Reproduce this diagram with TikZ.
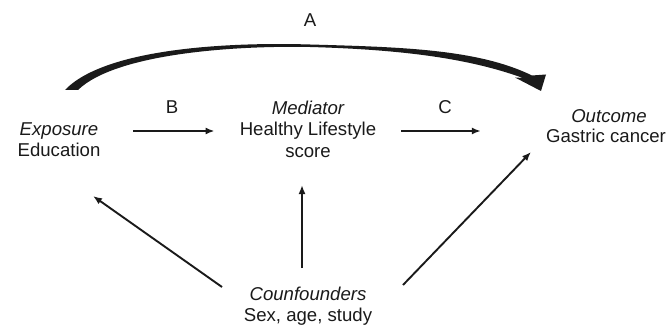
\documentclass[tikz,border=0pt]{standalone}
\usepackage{fontspec}
\setmainfont{Liberation Sans}
\usetikzlibrary{arrows.meta}
\definecolor{ink}{HTML}{1A1A1A}
\begin{document}
\begin{tikzpicture}[x=1pt,y=-1pt,
  txt/.style={inner sep=0pt, text height=13.5pt, text depth=4pt,
              font=\fontsize{18.6}{22}\selectfont, text=ink},
  it/.style={txt, font=\fontsize{18.6}{22}\selectfont\itshape},
  arr/.style={draw=ink, line width=1.9pt, -{Latex[length=9pt,width=7pt]}}]
\useasboundingbox (0,0) rectangle (672,326);

% path labels
\node[txt] (lblA) at (310,22) {A};
\node[txt] (lblB) at (172,109) {B};
\node[txt] (lblC) at (445,109) {C};

% variables
\node[it]  (expo)  at (59,131)  {Exposure};
\node[txt] (edu)   at (59,152)  {Education};
\node[it]  (med)   at (308,110) {Mediator};
\node[txt] (hls)   at (308,131) {Healthy Lifestyle};
\node[txt] (score) at (308,153) {score};
\node[it]  (outc)  at (609,118) {Outcome};
\node[txt] (gas)   at (606,138) {Gastric cancer};
\node[it]  (conf)  at (308,296) {Counfounders};
\node[txt] (cov)   at (308,317) {Sex, age, study};

% tapered curved arrow A (total effect)
\fill[ink] (65,90) .. controls (105,48) and (230,42) .. (310,44.5)
  .. controls (400,47) and (478,49) .. (532,75.5)
  -- (546,74.5) -- (541,91) -- (515,77.5) -- (523,78)
  .. controls (468,58) and (400,49.5) .. (310,47)
  .. controls (232,45.4) and (115,54) .. (78,90) -- cycle;

% paths B and C
\draw[arr, shorten <=35pt, shorten >=25pt] (expo) -- (hls);
\draw[arr, shorten <=25pt, shorten >=65pt] (hls) -- (hls -| gas.west);

% confounding paths
\coordinate (cfL) at (222,287);
\coordinate (toL) at (93,196);
\coordinate (cfM) at (302,268);
\coordinate (toM) at (302,185);
\coordinate (cfR) at (403,285);
\coordinate (toR) at (531,152);
\draw[arr] (cfL) -- (toL);
\draw[arr] (cfM) -- (toM);
\draw[arr] (cfR) -- (toR);
\end{tikzpicture}
\end{document}
